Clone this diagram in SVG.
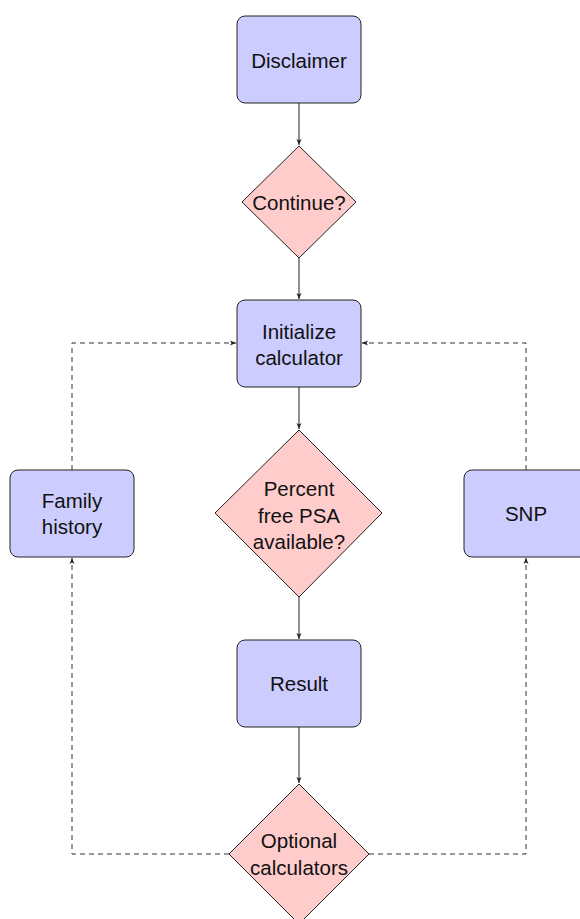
<svg xmlns="http://www.w3.org/2000/svg" width="580" height="919" viewBox="0 0 580 919">
<defs>
<marker id="ah" markerWidth="8" markerHeight="8" refX="7" refY="4" orient="auto" markerUnits="userSpaceOnUse">
<path d="M1,1.5 L7,4 L1,6.5 L2.5,4 Z" fill="#222"/>
</marker>
</defs>
<style>
.box{fill:#ccccff;stroke:#222;stroke-width:1}
.dia{fill:#ffcccc;stroke:#222;stroke-width:1}
.t{font-family:"Liberation Sans",Arial,sans-serif;font-size:20.5px;fill:#111;text-anchor:middle}
.ln{fill:none;stroke:#222;stroke-width:1}
.dl{fill:none;stroke:#333;stroke-width:1;stroke-dasharray:5,4}
</style>
<rect width="580" height="919" fill="#fff"/>
<g id="connectors">
<path class="ln" d="M299,103 V145" marker-end="url(#ah)"/>
<path class="ln" d="M299,258 V299" marker-end="url(#ah)"/>
<path class="ln" d="M299,387 V429" marker-end="url(#ah)"/>
<path class="ln" d="M299,597 V639" marker-end="url(#ah)"/>
<path class="ln" d="M299,727 V783" marker-end="url(#ah)"/>
<path class="dl" d="M229,854 H72 V558" marker-end="url(#ah)"/>
<path class="dl" d="M72,470 V343 H236" marker-end="url(#ah)"/>
<path class="dl" d="M369,854 H526 V558" marker-end="url(#ah)"/>
<path class="dl" d="M526,470 V343 H362" marker-end="url(#ah)"/>
</g>
<g id="disclaimer">
<rect class="box" x="237" y="16" width="124" height="87" rx="8"/>
<text class="t" x="299" y="68">Disclaimer</text>
</g>
<g id="continue">
<polygon class="dia" points="299,146 356,202 299,258 242,202"/>
<text class="t" x="299" y="210">Continue?</text>
</g>
<g id="initialize">
<rect class="box" x="237" y="300" width="124" height="87" rx="8"/>
<text class="t" x="299" y="338.5">Initialize</text>
<text class="t" x="299" y="364.5">calculator</text>
</g>
<g id="percent">
<polygon class="dia" points="299,430 382,513 299,597 215,513"/>
<text class="t" x="299" y="496">Percent</text>
<text class="t" x="299" y="522.5">free PSA</text>
<text class="t" x="299" y="549">available?</text>
</g>
<g id="family">
<rect class="box" x="10" y="470" width="124" height="87" rx="8"/>
<text class="t" x="72" y="508">Family</text>
<text class="t" x="72" y="534">history</text>
</g>
<g id="snp">
<rect class="box" x="464" y="470" width="124" height="87" rx="8"/>
<text class="t" x="526" y="521">SNP</text>
</g>
<g id="result">
<rect class="box" x="237" y="640" width="124" height="87" rx="8"/>
<text class="t" x="299" y="691">Result</text>
</g>
<g id="optional">
<polygon class="dia" points="299,784 369,854 299,924 229,854"/>
<text class="t" x="299" y="848">Optional</text>
<text class="t" x="299" y="875">calculators</text>
</g>
</svg>
